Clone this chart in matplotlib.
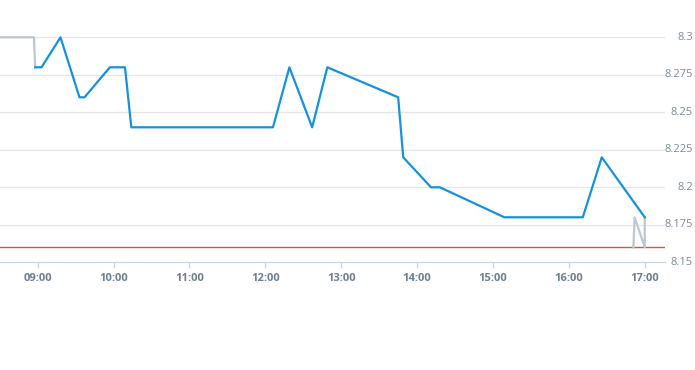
import matplotlib
matplotlib.use("Agg")
import matplotlib.pyplot as plt
import matplotlib.dates as mdates
import pandas as pd

DAY = "2024-01-02 "

# pre-market (grey) series
pre_times = ["08:30", "08:57", "08:58"]
pre_values = [8.30, 8.30, 8.28]

# main session (blue) series
main_times = ["08:58", "09:03", "09:18", "09:33", "09:37", "09:57", "10:09", "10:14",
              "12:06", "12:19", "12:37", "12:49", "13:45", "13:49", "14:11", "14:18",
              "15:09", "16:11", "16:26", "17:00"]
main_values = [8.28, 8.28, 8.30, 8.26, 8.26, 8.28, 8.28, 8.24,
               8.24, 8.28, 8.24, 8.28, 8.26, 8.22, 8.20, 8.20,
               8.18, 8.18, 8.22, 8.18]

# after-hours (grey) series
post_times = ["16:51", "16:52", "17:00", "17:00"]
post_values = [8.16, 8.18, 8.16, 8.18]

# reference (previous close) line
ref_value = 8.16

y_ticks = [8.15, 8.175, 8.2, 8.225, 8.25, 8.275, 8.3]
y_tick_labels = ["8.15", "8.175", "8.2", "8.225", "8.25", "8.275", "8.3"]
x_ticks = ["09:00", "10:00", "11:00", "12:00", "13:00", "14:00", "15:00", "16:00", "17:00"]


def ts(lst):
    return pd.to_datetime([DAY + t for t in lst])


fig = plt.figure(figsize=(6.95, 3.70), dpi=100)
ax = fig.add_axes([0, (370 - 262.3) / 370, 665 / 695, 262.3 / 370])

grid_c = "#e6e6e6"
label_c = "#6e7f90"
axis_c = "#ccd6eb"

ax.plot(ts(pre_times), pre_values, color="#bcc7cf", lw=1.6, zorder=3)
ax.plot(ts(post_times), post_values, color="#bcc7cf", lw=1.6, zorder=3)
ax.plot(ts(main_times), main_values, color="#1592db", lw=1.6, zorder=4)
ax.axhline(ref_value, color="#d9534f", lw=1.0, zorder=2)

ax.set_xlim(pd.Timestamp(DAY + "08:30:10"), pd.Timestamp(DAY + "17:16"))
ax.set_ylim(8.15, 8.3 + 37.3 / 1500)

ax.set_yticks(y_ticks)
ax.set_yticklabels([])
for v, lab in zip(y_ticks, y_tick_labels):
    ax.text(693 / 665, v, lab, transform=ax.get_yaxis_transform(),
            ha="right", va="center", fontsize=8, color="#7a8a99",
            family="Open Sans")
ax.tick_params(axis="y", length=0)
ax.grid(axis="y", color=grid_c, lw=0.9)
ax.set_axisbelow(True)

ax.set_xticks(ts(x_ticks))
ax.xaxis.set_major_formatter(mdates.DateFormatter("%H:%M"))
ax.tick_params(axis="x", length=4, width=0.9, color=axis_c, labelcolor=label_c,
               labelsize=8, pad=3.5)
for lab in ax.get_xticklabels():
    lab.set_family("Open Sans")
    lab.set_fontweight("bold")

for s in ["top", "left", "right"]:
    ax.spines[s].set_visible(False)
ax.spines["bottom"].set_color(axis_c)
ax.spines["bottom"].set_linewidth(0.9)

fig.savefig("out.png", dpi=100)
